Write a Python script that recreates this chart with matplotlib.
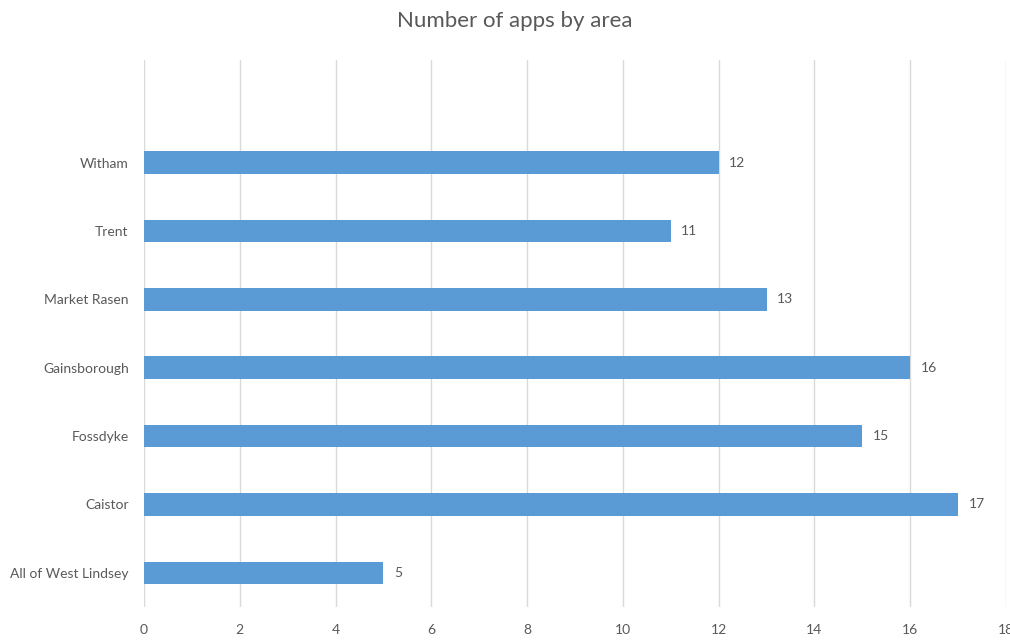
import matplotlib
matplotlib.use("Agg")
import matplotlib.pyplot as plt

areas = ["All of West Lindsey", "Caistor", "Fossdyke", "Gainsborough",
         "Market Rasen", "Trent", "Witham"]
apps = [5, 17, 15, 16, 13, 11, 12]
xticks = [0, 2, 4, 6, 8, 10, 12, 14, 16, 18]

plt.rcParams['font.family'] = ['Lato', 'DejaVu Sans']
txt = '#595959'

fig = plt.figure(figsize=(10.1, 6.4), dpi=100)
ax = fig.add_axes([0.1426, 0.0516, 0.8534, 0.8544])

pos = list(range(len(areas)))
bars = ax.barh(pos, apps, height=0.33, color='#5B9BD5', zorder=3)
for p, v in zip(pos, apps):
    ax.text(v + 0.22, p, str(v), va='center', ha='left', fontsize=10, color=txt)

ax.set_xlim(0, 18)
ax.set_ylim(-0.5, 7.5)
ax.set_xticks(xticks)
ax.set_yticks(pos)
ax.set_yticklabels(areas)
ax.xaxis.grid(True, color='#d9d9d9', linewidth=1, zorder=0)
ax.tick_params(axis='both', length=0, colors=txt, labelsize=10)
ax.tick_params(axis='x', pad=12)
ax.tick_params(axis='y', pad=11)
for s in ax.spines.values():
    s.set_visible(False)

fig.text(0.51, 0.967, "Number of apps by area", ha='center', va='center',
         fontsize=16, color=txt)

fig.savefig("out.png", dpi=100)
